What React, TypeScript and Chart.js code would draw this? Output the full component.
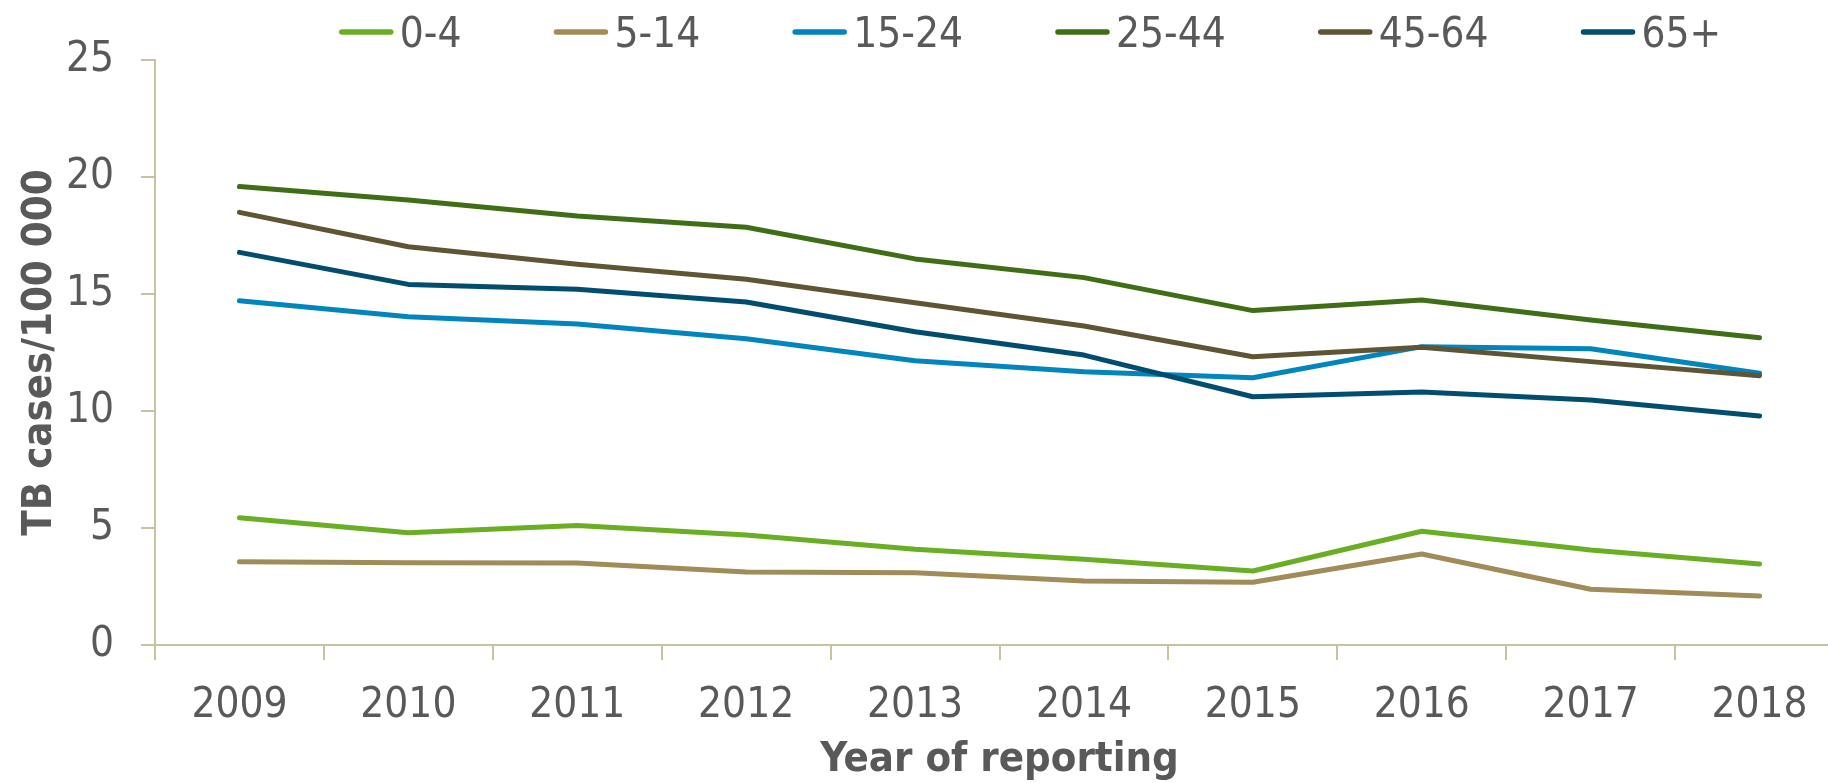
import React, { useEffect, useRef } from "react";
import { Chart, registerables } from "chart.js";

Chart.register(...registerables);

const years = ["2009", "2010", "2011", "2012", "2013", "2014", "2015", "2016", "2017", "2018"];
const seriesLabels = ["0-4", "5-14", "15-24", "25-44", "45-64", "65+"];
const age0to4 = [5.44, 4.8, 5.11, 4.7, 4.09, 3.66, 3.16, 4.86, 4.06, 3.46];
const age5to14 = [3.56, 3.52, 3.5, 3.12, 3.09, 2.74, 2.68, 3.89, 2.38, 2.09];
const age15to24 = [14.71, 14.03, 13.72, 13.09, 12.15, 11.68, 11.42, 12.75, 12.66, 11.61];
const age25to44 = [19.59, 19.02, 18.33, 17.85, 16.5, 15.7, 14.29, 14.74, 13.89, 13.13];
const age45to64 = [18.49, 17.02, 16.27, 15.63, 14.63, 13.63, 12.32, 12.72, 12.11, 11.51];
const age65plus = [16.78, 15.41, 15.2, 14.66, 13.39, 12.39, 10.61, 10.81, 10.47, 9.79];
const yTicks = [0, 5, 10, 15, 20, 25];

const seriesValues = [age0to4, age5to14, age15to24, age25to44, age45to64, age65plus];
const seriesColors = ["#6aae23", "#a08c58", "#0085be", "#406e16", "#5f5434", "#004d6f"];

const FONT = '"DejaVu Sans Condensed", "DejaVu Sans", sans-serif';
const TEXT = "#595959";
const AXIS = "#c9c29f";

const CANVAS_W = 1844;
const CANVAS_H = 783;

const legendPlugin = {
  id: "excelLegend",
  afterDraw(chart: any) {
    const ctx = chart.ctx as CanvasRenderingContext2D;
    const ds = chart.data.datasets;
    ctx.save();
    ctx.font = `42px ${FONT}`;
    const lineLen = 55;
    const gap = 6;
    const spacing = 92;
    const widths = ds.map((d: any) => ctx.measureText(d.label).width);
    const total =
      widths.reduce((a: number, w: number) => a + lineLen + gap + w, 0) + spacing * (ds.length - 1);
    let x = 1030 - total / 2;
    const yLine = 32;
    ds.forEach((d: any, i: number) => {
      ctx.strokeStyle = d.borderColor;
      ctx.lineWidth = 5.5;
      ctx.lineCap = "round";
      ctx.beginPath();
      ctx.moveTo(x + 3, yLine);
      ctx.lineTo(x + lineLen - 3, yLine);
      ctx.stroke();
      ctx.fillStyle = TEXT;
      ctx.textBaseline = "alphabetic";
      ctx.textAlign = "left";
      ctx.fillText(d.label, x + lineLen + gap, 47);
      x += lineLen + gap + widths[i] + spacing;
    });
    ctx.restore();
  },
};

export default function App() {
  const ref = useRef<HTMLCanvasElement | null>(null);

  useEffect(() => {
    if (!ref.current) return;
    const chart = new Chart(ref.current, {
      type: "line",
      data: {
        labels: years,
        datasets: seriesLabels.map((label, i) => ({
          label,
          data: seriesValues[i],
          borderColor: seriesColors[i],
          backgroundColor: seriesColors[i],
          borderWidth: 5,
          borderCapStyle: "round",
          borderJoinStyle: "round",
          pointRadius: 0,
          pointHoverRadius: 0,
          tension: 0,
          fill: false,
          order: seriesLabels.length - i,
        })),
      },
      options: {
        responsive: false,
        animation: false,
        maintainAspectRatio: false,
        layout: { padding: { top: 60, right: 0, left: 0, bottom: 0 } },
        plugins: {
          legend: { display: false },
          tooltip: { enabled: false },
        },
        scales: {
          x: {
            type: "category",
            offset: true,
            grid: {
              display: true,
              drawOnChartArea: false,
              drawTicks: true,
              tickLength: 15,
              color: AXIS,
              lineWidth: 2,
              offset: true,
            },
            border: { display: true, color: AXIS, width: 2 },
            ticks: {
              color: TEXT,
              font: { family: FONT, size: 42 },
              padding: 21,
              maxRotation: 0,
              autoSkip: false,
            },
            title: {
              display: true,
              text: "Year of reporting",
              color: TEXT,
              font: { family: FONT, size: 41.5, weight: "bold", lineHeight: 1 },
              padding: { top: 0, bottom: 2 },
            },
            afterFit: (scale: any) => {
              scale.height = CANVAS_H - 645;
            },
          },
          y: {
            min: 0,
            max: 25,
            afterBuildTicks: (scale: any) => {
              scale.ticks = yTicks.map((v) => ({ value: v }));
            },
            grid: {
              display: true,
              drawOnChartArea: false,
              drawTicks: true,
              tickLength: 14,
              color: AXIS,
              lineWidth: 2,
            },
            border: { display: true, color: AXIS, width: 2 },
            ticks: {
              color: TEXT,
              font: { family: FONT, size: 42 },
              padding: 27,
            },
            title: {
              display: true,
              text: "TB cases/100 000",
              color: TEXT,
              font: { family: FONT, size: 41.5, weight: "bold", lineHeight: 1 },
              padding: { top: 19, bottom: 0 },
            },
            afterFit: (scale: any) => {
              scale.width = 155;
            },
          },
        },
      },
      plugins: [legendPlugin],
    } as any);
    return () => chart.destroy();
  }, []);

  return (
    <div
      style={{
        position: "fixed",
        left: 0,
        top: 0,
        width: 1828,
        height: 783,
        overflow: "hidden",
        background: "#ffffff",
      }}
    >
      <canvas
        ref={ref}
        width={CANVAS_W}
        height={CANVAS_H}
        style={{ width: CANVAS_W, height: CANVAS_H, display: "block" }}
      />
    </div>
  );
}
